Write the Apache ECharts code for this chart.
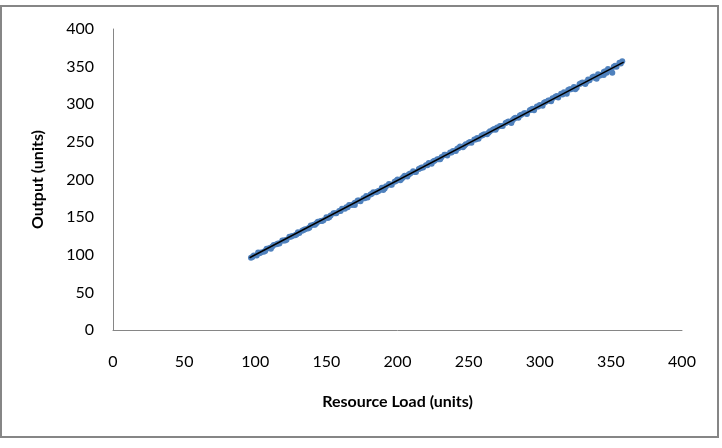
<!DOCTYPE html>
<html>
<head>
<meta charset="utf-8">
<script src="https://cdn.jsdelivr.net/npm/echarts@6/dist/echarts.min.js"></script>
<style>html,body{margin:0;padding:0;background:#fff;}#c{width:722px;height:448px;}</style>
</head>
<body>
<div id="c"></div>
<script>
// Observed (Resource Load, Output) pairs
const loadX = [97,99,101,102,104,106,108,110,111,113,115,117,119,120,122,124,126,128,130,131,133,135,137,139,141,142,144,146,148,150,152,153,155,157,159,161,163,165,166,168,170,172,174,176,178,179,181,183,185,187,189,191,192,194,196,198,200,202,204,205,207,209,211,213,215,217,218,220,222,224,226,228,230,231,233,235,237,239,241,243,244,246,248,250,252,254,256,257,259,261,263,265,267,269,270,272,274,276,278,280,282,283,285,287,289,291,293,295,296,298,300,302,304,306,308,309,311,313,315,317,319,321,322,324,326,328,330,332,334,335,337,339,341,343,345,347,348,350,352,354,356,358,340,345,351,325,280,190,170];
const outputY = [96,99,99,103,103,104,108,109,108,113,114,115,119,119,120,124,125,126,130,129,132,134,135,139,140,140,144,145,146,150,150,152,155,155,158,161,161,163,166,166,169,172,171,175,178,176,180,183,183,185,189,188,191,194,193,197,200,199,203,205,204,208,211,210,214,216,216,219,222,221,225,227,227,230,233,232,236,238,238,242,244,243,247,249,249,253,255,254,258,260,260,264,266,266,269,271,271,275,277,276,281,282,282,286,288,287,292,294,292,297,299,298,303,305,304,308,310,309,314,316,314,320,320,323,322,327,329,327,333,332,336,335,340,339,343,342,347,345,350,350,355,357,334,339,342,320,275,186,166];
const loadX2 = [98,103,107,112,116,121,125,129,134,138,143,147,151,156,160,164,169,173,177,182,186,190,195,199,203,208,212,216,221,225,229,234,238,242,247,251,255,260,264,268,273,277,281,286,290,294,299,303,307,312,316,320,325,329,333,338,342,346,349,353,357];
const outputY2 = [97,102,105,111,115,119,124,127,133,136,142,145,149,155,158,163,167,172,175,181,184,189,193,198,201,207,210,215,219,224,227,233,236,241,245,250,253,259,262,267,271,276,279,285,288,293,297,302,305,311,313,319,322,328,330,337,338,344,345,351,354];
// Linear trend line endpoints
const trendX = [96, 359];
const trendY = [96, 356];
const xTicks = [0, 400, 50];
const yTicks = [0, 400, 50];

const scatterData = loadX.map((x, i) => [x, outputY[i]])
  .concat(loadX2.map((x, i) => [x, outputY2[i]]));
const trendData = trendX.map((x, i) => [x, trendY[i]]);

const FONT = 'Lato, "Open Sans", sans-serif';
const chart = echarts.init(document.getElementById('c'), null, {renderer: 'canvas'});
chart.setOption({
  animation: false,
  backgroundColor: '#fff',
  grid: {left: 113, right: 40, top: 29, bottom: 118, containLabel: false},
  graphic: [{
    type: 'rect', shape: {x: 1, y: 6, width: 717, height: 431},
    style: {fill: 'none', stroke: '#868686', lineWidth: 2}, silent: true, z: -1
  }],
  xAxis: {
    type: 'value', min: xTicks[0], max: xTicks[1], interval: xTicks[2],
    name: 'Resource Load (units)', nameLocation: 'middle', nameGap: 64,
    nameTextStyle: {fontFamily: FONT, fontWeight: 'bold', fontSize: 16, color: '#000'},
    axisLine: {show: true, lineStyle: {color: '#868686', width: 1}},
    axisTick: {show: false},
    splitLine: {show: false},
    axisLabel: {fontFamily: FONT, fontSize: 16, color: '#000', margin: 24}
  },
  yAxis: {
    type: 'value', min: yTicks[0], max: yTicks[1], interval: yTicks[2],
    name: 'Output (units)', nameLocation: 'middle', nameGap: 67,
    nameTextStyle: {fontFamily: FONT, fontWeight: 'bold', fontSize: 16, color: '#000'},
    axisLine: {show: true, lineStyle: {color: '#868686', width: 1}},
    axisTick: {show: false},
    splitLine: {show: false},
    axisLabel: {fontFamily: FONT, fontSize: 16, color: '#000', margin: 19}
  },
  series: [{
    type: 'scatter', data: scatterData, symbol: 'circle', symbolSize: 6,
    itemStyle: {color: '#4F81BD', opacity: 1}, z: 2
  }, {
    type: 'line', data: trendData, symbol: 'none',
    lineStyle: {color: '#000', width: 1.5}, z: 3
  }]
});
</script>
</body>
</html>
